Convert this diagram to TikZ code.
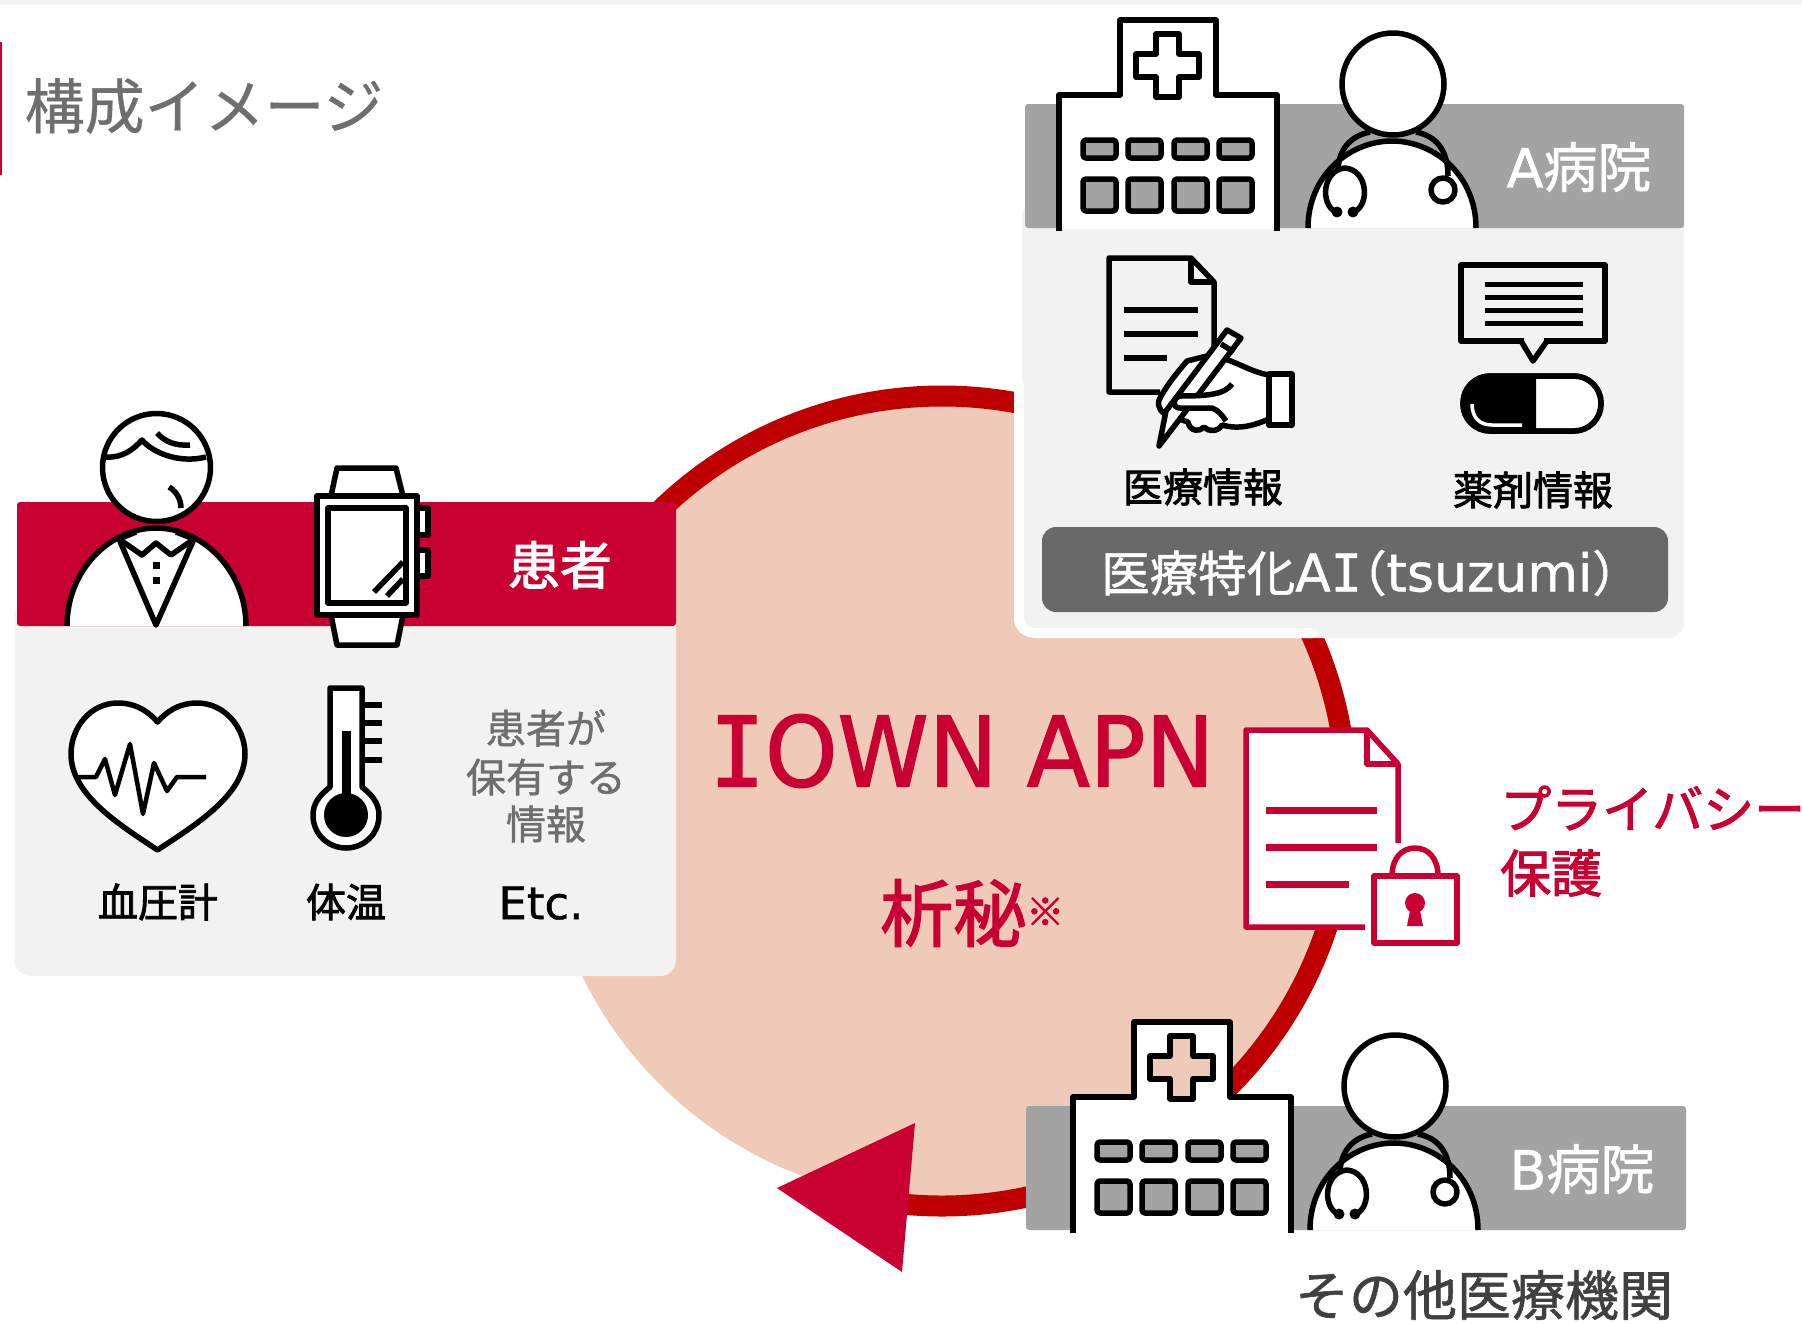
\documentclass[tikz,border=0pt]{standalone}
\usepackage{fontspec}
\setmainfont{Noto Sans CJK JP}
\newfontfamily\midfont[FakeBold=2]{Noto Sans CJK JP}
\newfontfamily\semifont[FakeBold=1.1]{Noto Sans CJK JP}
\newfontfamily\titlefont[FakeBold=0.5]{Noto Sans CJK JP}
\newfontfamily\latfont[FakeBold=0.9]{DejaVu Sans}
\newfontfamily\latmono[FakeBold=0.9]{DejaVu Sans Mono}
\newfontfamily\apnfont[FakeBold=1.5,FakeStretch=0.95]{DejaVu Sans}
\newfontfamily\apnmono[FakeBold=1.5,FakeStretch=0.95]{DejaVu Sans Mono}
\definecolor{nttred}{HTML}{C90032}
\definecolor{ringred}{HTML}{BE0000}
\definecolor{peach}{HTML}{EFCAB8}
\definecolor{bandgray}{HTML}{A3A3A3}
\definecolor{panelgray}{HTML}{F2F2F2}
\definecolor{bargray}{HTML}{696969}
\definecolor{textgray}{HTML}{6E6E6E}
\newcommand{\fsize}[1]{\fontsize{#1}{#1}\selectfont}
\tikzset{
    icon/.style={draw=black, line width=5.5pt, line join=round},
    iconw/.style={icon, fill=white},
    docred/.style={draw=nttred, line width=5.5pt, line join=round},
    label/.style={inner sep=0pt, text=black},
    cjkmid/.style={font=\midfont\fsize{#1}},
    cjksemi/.style={font=\semifont\fsize{#1}},
}
% hospital building, #1 = shift, #2 = colour seen through the cross
\newcommand{\hospitalicon}[2]{
    \begin{scope}[shift={#1}]
        \fill[white] (1059,95) -- (1120,95) -- (1120,20) -- (1216,20) -- (1216,95) -- (1277,95) -- (1277,229) -- (1059,229) -- cycle;
        \draw[icon] (1059,231) -- (1059,95) -- (1120,95) -- (1120,20) -- (1216,20) -- (1216,95) -- (1277,95) -- (1277,231);
        \draw[icon, fill=#2] (1156,34) -- (1179,34) -- (1179,54) -- (1199,54) -- (1199,77) -- (1179,77) -- (1179,97) -- (1156,97) -- (1156,77) -- (1136,77) -- (1136,54) -- (1156,54) -- cycle;
        \foreach \wx in {1083,1128,1174,1219} {
            \draw[icon, fill=bandgray, rounded corners=3pt] (\wx,140) rectangle ++(33,18);
            \draw[icon, fill=bandgray, rounded corners=3pt] (\wx,179) rectangle ++(33,32);
        }
    \end{scope}
}
% doctor with stethoscope
\newcommand{\doctoricon}[1]{
    \begin{scope}[shift={#1}]
        \draw[iconw] (1308,228) .. controls (1308,175) and (1350,141) .. (1392,141) .. controls (1434,141) and (1476,175) .. (1476,228);
        \draw[icon] (1338,172) .. controls (1338,150) and (1350,136) .. (1370,132);
        \draw[icon] (1448,176) .. controls (1448,150) and (1436,136) .. (1416,132);
        \draw[iconw] (1393,84) circle[radius=51pt];
        \draw[icon] (1336,212) .. controls (1320,205) and (1322,170) .. (1345,168) .. controls (1368,170) and (1370,205) .. (1354,212);
        \fill (1337,212) circle[radius=5.5pt];
        \fill (1353,212) circle[radius=5.5pt];
        \draw[iconw] (1443,190) circle[radius=12pt];
    \end{scope}
}
\begin{document}
\begin{tikzpicture}[x=1pt,y=-1pt]
    \useasboundingbox (0,0) rectangle (1802,1323);
    \fill[panelgray] (0,0) rectangle (1802,5);
    \fill[nttred] (0,42) rectangle (2,175);
    \node[inner sep=0pt, text=textgray, font=\titlefont\fsize{60}] (title) at (204,106) {構成イメージ};

    % circle and ring
    \coordinate (ringc) at (942,801);
    \fill[peach] (ringc) circle[radius=400pt];
    \draw[ringred, line width=21pt] (ringc) ++(136:405pt) arc[start angle=136, end angle=-98, radius=405pt];
    \fill[nttred] (777,1188) -- (915,1123) -- (902,1272) -- cycle;
    \node[inner sep=0pt, text=nttred] (apn) at (962,751) {\fsize{97}{\apnmono I}\apnfont OWN APN};
    \node[inner sep=0pt, text=nttred, anchor=west] (secret) at (880,913) {\midfont\fsize{73}析秘\fsize{38}\raisebox{15pt}{※}};

    % patient card
    \fill[panelgray, rounded corners=16pt] (14.5,600) rectangle (676,976);
    \fill[nttred, rounded corners=3pt] (17,502) rectangle (676,626);
    \node[label, text=white, cjkmid=52] (patient) at (560,565) {患者};

    % patient figure
    \draw[iconw] (67,626) .. controls (67,570) and (110,528) .. (156,528) .. controls (202,528) and (246,570) .. (246,626);
    \draw[icon] (119,539) -- (156,625) -- (194,539);
    \draw[icon] (136,532) -- (119,539) -- (142,555) -- (156,543) -- (171,555) -- (194,539) -- (176,532);
    \draw[iconw] (156.5,467.5) circle[radius=54pt];
    \draw[icon] (106,457) .. controls (122,458) and (133,450) .. (142,440) .. controls (152,452) and (178,464) .. (206,457);
    \draw[icon] (157,433) .. controls (165,442) and (176,446) .. (190,445);
    \draw[icon] (169,487) .. controls (176,491) and (181,499) .. (181,508);
    \fill (152.5,562) rectangle ++(7,7);
    \fill (152.5,577) rectangle ++(7,7);

    % watch
    \draw[iconw] (331,496) -- (337,468) -- (396,468) -- (403,496) -- cycle;
    \draw[iconw] (331,615) -- (337,645) -- (397,645) -- (403,615) -- cycle;
    \draw[iconw] (417,508) rectangle (428,535);
    \draw[iconw] (417,550) rectangle (428,576);
    \draw[iconw] (317,496) rectangle (417,615);
    \draw[iconw] (328,508) rectangle (406,603);
    \draw[icon, line join=miter] (403,562) -- (374,592);
    \draw[icon, line join=miter] (403,579) -- (387,596);

    % heart
    \draw[iconw] (157.5,722) .. controls (142,704) and (125,703) .. (118,703) .. controls (90,703) and (71,728) .. (71,754) .. controls (71,795) and (120,825) .. (157.5,850) .. controls (195,825) and (245,795) .. (245,754) .. controls (245,728) and (225,703) .. (197,703) .. controls (190,703) and (173,704) .. (157.5,722) -- cycle;
    \draw[icon, line width=4.5pt] (77,777) -- (96,777) -- (105,759) -- (115,795) -- (130,744) -- (143,814) -- (154,763) -- (167,791) -- (177,777) -- (206,777);
    \node[label, cjkmid=40] (pressure) at (158,902) {血圧計};

    % thermometer
    \foreach \ty in {705,723,741,760} {
        \draw[icon, line join=miter] (362,\ty) -- (382,\ty);
    }
    \draw[iconw] (330,787) -- (330,688) -- (362,688) -- (362,787) .. controls (372,795) and (379,803) .. (379,815) .. controls (379,835) and (363,848) .. (346,848) .. controls (329,848) and (313,835) .. (313,815) .. controls (313,803) and (320,795) .. (330,787) -- cycle;
    \fill (341.5,731) rectangle (351,800);
    \fill (346,815) circle[radius=22pt];
    \node[label, cjkmid=40] (temp) at (346,902) {体温};

    \node[inner sep=0pt, text=textgray, cjksemi=40] (own1) at (546,728) {患者が};
    \node[inner sep=0pt, text=textgray, cjksemi=40] (own2) at (546,777) {保有する};
    \node[inner sep=0pt, text=textgray, cjksemi=40] (own3) at (546,824) {情報};
    \node[label, font=\latfont\fsize{45}] (etc) at (541,903) {Etc.};

    % hospital A card
    \fill[panelgray, rounded corners=16pt] (1022,200) rectangle (1684,638);
    \draw[white, line width=10pt, line cap=round] (1019,385) -- (1019,618) .. controls (1019,628) and (1027,633) .. (1037,633) -- (1312,633);
    \fill[bandgray, rounded corners=3pt] (1025,104) rectangle (1684,228);
    \hospitalicon{(0,0)}{white}
    \doctoricon{(0,0)}
    \node[inner sep=0pt, text=white, cjksemi=54] (hospa) at (1579,167) {{\latfont A}病院};

    % document and hand
    \draw[icon] (1214,365) -- (1214,282) -- (1191,258) -- (1109,258) -- (1109,392) -- (1160,392);
    \draw[icon] (1191,258) -- (1191,282) -- (1214,282);
    \foreach \ly/\lx in {310/1198,334/1198,358/1167} {
        \draw[draw=black, line width=6pt] (1124,\ly) -- (\lx,\ly);
    }
    \draw[iconw] (1269,375) .. controls (1250,372) and (1235,360) .. (1211,355) -- (1187,361) .. controls (1175,375) and (1165,388) .. (1159,400) .. controls (1157,408) and (1162,414) .. (1170,416) -- (1188,422) .. controls (1190,432) and (1200,432) .. (1204,427) .. controls (1208,432) and (1218,432) .. (1222,425) .. controls (1240,430) and (1255,425) .. (1269,419) -- cycle;
    \draw[iconw] (1227,330) -- (1241,338) -- (1182,416) -- (1159,446) -- (1166,411) -- cycle;
    \draw[icon] (1221,344) -- (1234,352);
    \draw[iconw] (1232,384) .. controls (1225,394) and (1210,396) .. (1180,396) .. controls (1172,398) and (1172,408) .. (1180,408) -- (1212,408) .. controls (1218,410) and (1222,415) .. (1226,421);
    \draw[iconw] (1269,374) rectangle (1292,425);
    \node[label, cjkmid=40] (medinfo) at (1203,487) {医療情報};

    % speech bubble and capsule
    \draw[icon] (1461,265) rectangle (1605,341);
    \fill[panelgray] (1524,338) rectangle (1544,344);
    \draw[icon] (1521,341) -- (1533,361) -- (1547,341);
    \foreach \ly in {284,297,310,323} {
        \draw[draw=black, line width=5pt] (1485,\ly) -- (1583,\ly);
    }
    \draw[iconw, rounded corners=27pt] (1463,376) rectangle (1601,431);
    \fill[black] (1536,376) [rounded corners=27pt] -- (1463,376) -- (1463,431) [sharp corners] -- (1536,431) -- cycle;
    \draw[icon, rounded corners=27pt] (1463,376) rectangle (1601,431);
    \draw[white, line width=3.5pt] (1472,404) .. controls (1472,418) and (1480,425) .. (1492,425) -- (1522,425);
    \node[label, cjkmid=40] (druginfo) at (1533,490) {薬剤情報};

    \fill[bargray, rounded corners=14pt] (1042,527) rectangle (1668,612);
    \node[inner sep=0pt, text=white, anchor=west, cjksemi=48.5] (ai) at (1101,573) {医療特化{\latfont\fsize{52}A\latmono I}\kern-24pt（{\latfont\fsize{52}tsuzumi}）};

    % privacy document with lock
    \begin{scope}[shift={(-3,0)}]
    \draw[docred, fill=white] (1368,927) -- (1249,927) -- (1249,730) -- (1370,730) -- (1401,764) -- (1401,843);
    \draw[docred] (1370,730) -- (1370,764) -- (1401,764);
    \foreach \ly/\lx in {810/1380,847/1380,884/1352} {
        \draw[draw=nttred, line width=7pt] (1269,\ly) -- (\lx,\ly);
    }
    \draw[docred, fill=white] (1395,876) .. controls (1395,858) and (1405,848) .. (1418,848) .. controls (1431,848) and (1441,858) .. (1441,876);
    \draw[docred, fill=white] (1377,876) rectangle (1460,943);
    \fill[nttred] (1418,903) circle[radius=10pt];
    \fill[nttred] (1414,905) -- (1422,905) -- (1426,926) -- (1410,926) -- cycle;
    \end{scope}
    \node[inner sep=0pt, text=nttred, anchor=west, cjkmid=51] (privacy1) at (1500,808) {プライバシー};
    \node[inner sep=0pt, text=nttred, anchor=west, cjkmid=51] (privacy2) at (1500,873) {保護};

    % hospital B
    \fill[bandgray, rounded corners=3pt] (1026,1106) rectangle (1686,1230);
    \hospitalicon{(14,1002)}{peach}
    \doctoricon{(2,1002)}
    \node[inner sep=0pt, text=white, cjksemi=54] (hospb) at (1582,1169) {{\latfont B}病院};
    \node[inner sep=0pt, text=black!75, cjksemi=54] (others) at (1484,1295) {その他医療機関};
\end{tikzpicture}
\end{document}
